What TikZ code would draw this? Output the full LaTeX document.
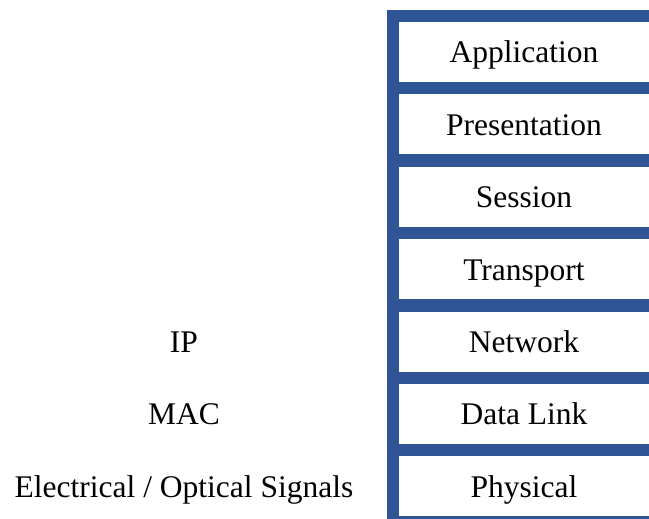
\documentclass[tikz,border=0pt]{standalone}
\usepackage{fontspec}
\setmainfont{Liberation Serif}
\usepackage{xcolor}
\usetikzlibrary{positioning,backgrounds}
\definecolor{osiblue}{HTML}{2F5597}

\begin{document}
\begin{tikzpicture}[x=1pt, y=1pt,
  layer/.style={rectangle, fill=white, inner sep=0pt, minimum width=250pt,
                minimum height=60pt, text height=28pt, text depth=6pt,
                font=\fontsize{31.5}{36}\selectfont, text=black},
  side/.style={inner sep=0pt, text height=28pt, text depth=6pt,
               font=\fontsize{31.5}{36}\selectfont, text=black}
]
\useasboundingbox (0,0) rectangle (649,519);
\clip (0,0) rectangle (649,519);

\node[layer] (app) at (524,467) {Application};
\node[layer, below=12pt of app] (pres) {Presentation};
\node[layer, below=12pt of pres] (sess) {Session};
\node[layer, below=12pt of sess] (trans) {Transport};
\node[layer, below=12pt of trans] (net) {Network};
\node[layer, below=12pt of net] (link) {Data Link};
\node[layer, below=12pt of link] (phys) {Physical};

\node[side] (ip) at ([xshift=-340pt]net.center) {IP};
\node[side] (mac) at ([xshift=-340pt]link.center) {MAC};
\node[side] (sig) at ([xshift=-340pt]phys.center) {Electrical / Optical Signals};

\begin{scope}[on background layer]
  \fill[osiblue] ([xshift=-12pt, yshift=12pt]app.north west) rectangle ([yshift=-12pt]phys.south east);
\end{scope}

\end{tikzpicture}
\end{document}
